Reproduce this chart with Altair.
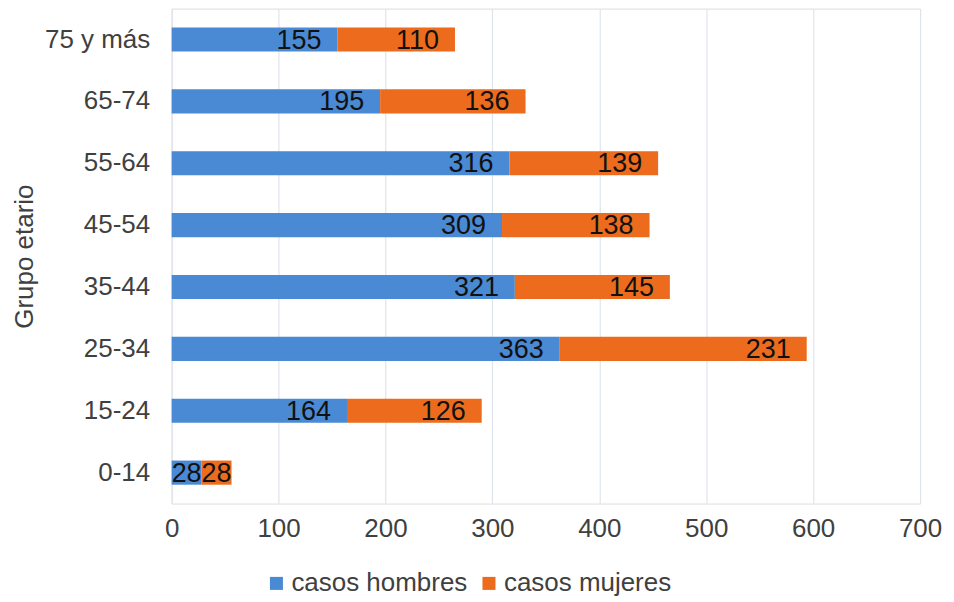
import altair as alt
import pandas as pd

grupos = ["0-14", "15-24", "25-34", "35-44", "45-54", "55-64", "65-74", "75 y más"]
hombres = [28, 164, 363, 321, 309, 316, 195, 155]
mujeres = [28, 126, 231, 145, 138, 139, 136, 110]
series = ["casos hombres", "casos mujeres"]
colores = ["#4a89d3", "#ed6b1d"]
x_ticks = [0, 100, 200, 300, 400, 500, 600, 700]

rows = []
for g, h, m in zip(grupos, hombres, mujeres):
    rows.append({"grupo": g, "serie": series[0], "orden": 0, "valor": h})
    rows.append({"grupo": g, "serie": series[1], "orden": 1, "valor": m})
df = pd.DataFrame(rows)

FONT = "Liberation Sans"
orden_y = list(reversed(grupos))

base = alt.Chart(df).transform_stack(
    stack="valor", groupby=["grupo"], as_=["x0", "x1"],
    sort=[alt.SortField("orden", order="ascending")]
).transform_calculate(xm="(datum.x0 + datum.x1) / 2")

y_enc = alt.Y("grupo:N", sort=orden_y, title="Grupo etario",
              scale=alt.Scale(paddingInner=0.61, paddingOuter=0.305),
              axis=alt.Axis(domain=False, ticks=False, labelFontSize=26,
                            labelColor="#404040", labelFont=FONT, labelPadding=22,
                            titleFont=FONT, titleFontSize=26, titleFontWeight="normal",
                            titleColor="#404040", titlePadding=7))

bars = base.mark_bar().encode(
    x=alt.X("x0:Q", title=None,
            scale=alt.Scale(domain=[0, 700], nice=False),
            axis=alt.Axis(values=x_ticks, domain=False, ticks=False, grid=True,
                          gridColor="#dfe4ec", gridWidth=1.2, labelFlush=False,
                          labelFontSize=26, labelColor="#404040", labelFont=FONT,
                          labelPadding=12)),
    x2="x1:Q",
    y=y_enc,
    color=alt.Color("serie:N", scale=alt.Scale(domain=series, range=colores),
                    legend=alt.Legend(title=None, orient="none", direction="horizontal",
                                      legendX=92, legendY=563,
                                      symbolType="square", symbolSize=170,
                                      symbolStrokeWidth=0, labelLimit=0,
                                      labelFontSize=26, labelFont=FONT,
                                      labelColor="#404040", labelOffset=2,
                                      columnPadding=8)),
)

labels_end = base.transform_filter("datum.valor >= 40").mark_text(
    align="right", baseline="middle", dx=-16, dy=1,
    fontSize=27, font=FONT, color="#111111").encode(
    x=alt.X("x1:Q"),
    y=alt.Y("grupo:N", sort=orden_y),
    text=alt.Text("valor:Q"),
)

labels_mid = base.transform_filter("datum.valor < 40").mark_text(
    align="center", baseline="middle", dx=0, dy=1,
    fontSize=27, font=FONT, color="#111111").encode(
    x=alt.X("xm:Q"),
    y=alt.Y("grupo:N", sort=orden_y),
    text=alt.Text("valor:Q"),
)

chart = alt.layer(bars, labels_end, labels_mid).properties(
    width=750, height=496,
    autosize=alt.AutoSizeParams(type="none"),
    padding={"left": 164, "top": 0, "right": 26, "bottom": 92},
).configure_view(strokeWidth=0, stroke="transparent").configure(background="white")

chart.save("out.html", embed_options={"renderer": "svg", "actions": False})
